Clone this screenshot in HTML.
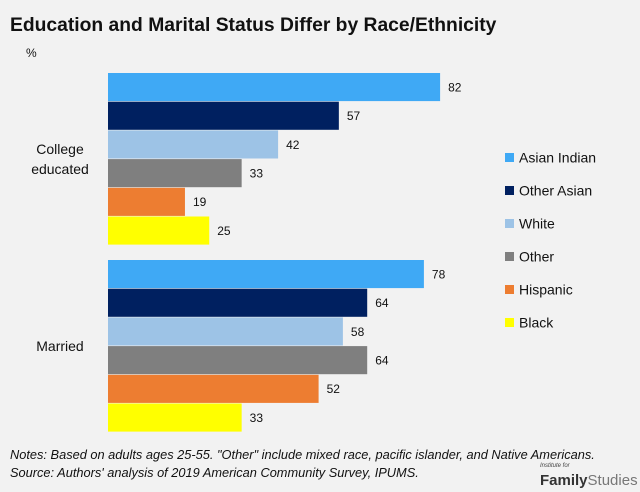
<!DOCTYPE html>
<html><head><meta charset="utf-8"><style>
body{margin:0;background:#f2f2f2;}
svg{display:block;font-family:"Liberation Sans",sans-serif;}
</style></head><body>
<svg id="c" width="640" height="492">
<rect width="640" height="492" fill="#f2f2f2"/>
<text x="10" y="31" font-size="19.3" font-weight="bold" fill="#111">Education and Marital Status Differ by Race/Ethnicity</text>
<text x="26" y="57" font-size="12" fill="#111">%</text>
<g id="bars"></g>
<g id="legend"></g>
<text x="10" y="459" font-size="12.8" font-style="italic" fill="#111">Notes: Based on adults ages 25-55. "Other" include mixed race, pacific islander, and Native Americans.</text>
<text x="10" y="477" font-size="12.8" font-style="italic" fill="#111">Source: Authors' analysis of 2019 American Community Survey, IPUMS.</text>
<text x="540" y="467" font-size="6" font-style="italic" fill="#444">Institute for</text>
<text x="540" y="485" font-size="15" fill="#333"><tspan font-weight="bold">Family</tspan><tspan fill="#777">Studies</tspan></text>
</svg>
<script>
const groups = ["College educated","Married"];
const series = ["Asian Indian","Other Asian","White","Other","Hispanic","Black"];
const colors = ["#3fa9f5","#002060","#9dc3e6","#7f7f7f","#ed7d31","#ffff00"];
const college = [82,57,42,33,19,25];
const married = [78,64,58,64,52,33];
const values = [college, married];
const ns="http://www.w3.org/2000/svg";
const x0=108, pxPer=4.05;
const xs=v=>x0+v*pxPer;
const groupTop=[73,260], barH=28.7;
const g=document.getElementById('bars');
function mk(t,a,p){const e=document.createElementNS(ns,t);for(const k in a)e.setAttribute(k,a[k]);p.appendChild(e);return e;}
values.forEach((vals,gi)=>{
  vals.forEach((v,si)=>{
    const y=groupTop[gi]+si*barH;
    const r=mk('rect',{x:x0,y:y,width:xs(v)-x0,height:barH-0.6,fill:colors[si]},g);
    
    
    const t=mk('text',{x:xs(v)+8,y:y+barH/2+4,'font-size':12,fill:'#111'},g);
    t.textContent=v;
    
    
  });
  const cy=groupTop[gi]+3*barH;
  const lines=gi?["Married"]:["College","educated"];
  lines.forEach((l,li)=>{
    const t=mk('text',{x:60,y:cy+5+(li-(lines.length-1)/2)*20,'font-size':14,'text-anchor':'middle',fill:'#111'},g);
    t.textContent=l;
    
    
  });
});
const lg=document.getElementById('legend');
series.forEach((s,i)=>{
  const y=158+i*33;
  const r=mk('rect',{x:505,y:y-5,width:9,height:9,fill:colors[i]},lg);
  
  
  const t=mk('text',{x:519,y:y+4.5,'font-size':14,fill:'#111'},lg);
  t.textContent=s;
  
  
});
</script>
</body></html>
